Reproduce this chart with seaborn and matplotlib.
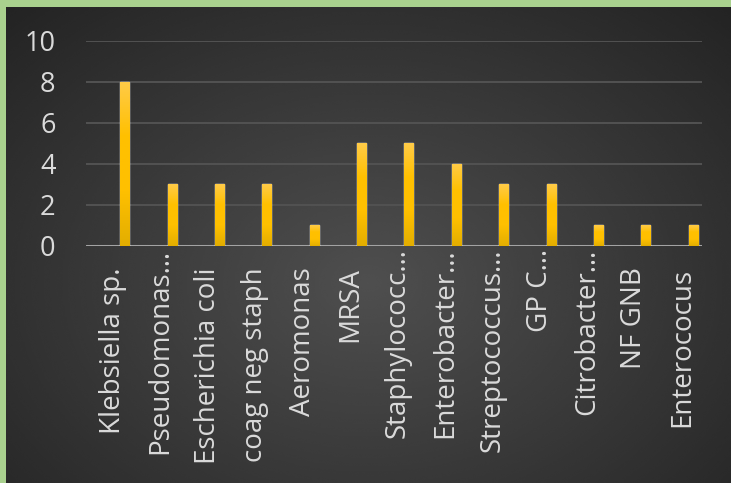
import numpy as np
import matplotlib.pyplot as plt
import seaborn as sns
from matplotlib.colors import LinearSegmentedColormap
from matplotlib.transforms import ScaledTranslation

# Organism counts (labels as shown, Excel-truncated ones end with "…")
categories = ["Klebsiella sp.", "Pseudomonas…", "Escherichia coli", "coag neg staph",
              "Aeromonas", "MRSA", "Staphylococc…", "Enterobacter…", "Streptococcus…",
              "GP C…", "Citrobacter…", "NF GNB", "Enterococus"]
counts = [8, 3, 3, 3, 1, 5, 5, 4, 3, 3, 1, 1, 1]
y_ticks = [0, 2, 4, 6, 8, 10]

sns.set_theme(style="white")
plt.rcParams['font.family'] = ['Open Sans', 'DejaVu Sans']

W, H = 731, 483
fig = plt.figure(figsize=(W / 100, H / 100), dpi=100, facecolor="#a9d18e")

# dark radial background inside the green frame
bg = fig.add_axes([6 / W, 0, 1 - 6 / W, 1 - 7 / H], zorder=-10)
yy, xx = np.mgrid[0:1:300j, 0:1:450j]
r = np.sqrt(((xx - 0.50) / 0.72) ** 2 + ((yy - 0.58) / 0.80) ** 2)
shade = 0.31 - 0.17 * np.clip(r, 0, 1)
bg.imshow(shade, cmap="gray", vmin=0, vmax=1, aspect="auto", origin="upper",
          extent=[0, 1, 0, 1], interpolation="bicubic")
bg.set_axis_off()

# plot area
ax = fig.add_axes([86 / W, 1 - 246 / H, 616 / W, (246 - 40.7) / H])
ax.set_facecolor("none")

bar_offset = 0.316
xpos = np.arange(len(categories)) + bar_offset
sns.barplot(x=xpos, y=counts, native_scale=True, width=0.19, color="#ffc000",
            saturation=1, ax=ax, zorder=3)

# golden vertical gradient on each bar
gold = LinearSegmentedColormap.from_list("gold", ["#e3ae00", "#ffc000", "#ffc000", "#ffcb47"])
grad = np.linspace(0, 1, 64).reshape(-1, 1)
for p in list(ax.patches):
    x0, y0 = p.get_x(), p.get_y()
    w, h = p.get_width(), p.get_height()
    im = ax.imshow(grad, extent=[x0, x0 + w, y0, y0 + h], origin="lower",
                   aspect="auto", cmap=gold, zorder=3.5)
    im.set_clip_path(p)

ax.set_xlim(-0.5, len(categories) - 0.5)
ax.set_ylim(0, 10)
ax.set_yticks(y_ticks)
ax.set_xticks(np.arange(len(categories)))
ax.set_xticklabels(categories, rotation=90)
ax.set_xlabel("")
ax.set_ylabel("")

ax.yaxis.grid(True, color="#525252", linewidth=1.4)
ax.xaxis.grid(False)
ax.set_axisbelow(True)
for s in ax.spines.values():
    s.set_visible(False)
ax.axhline(0, color="#a3a3a3", linewidth=2.2, zorder=2)

ax.tick_params(axis="both", length=0, labelcolor="#dadada")
ax.tick_params(axis="y", pad=22, labelsize=19.5)
ax.tick_params(axis="x", pad=15.5, labelsize=20)

# nudge labels right a little; truncated labels overflow up to the axis line
for lbl, name in zip(ax.get_xticklabels(), categories):
    dy = 0.19 if name.endswith("…") else 0.0
    lbl.set_transform(lbl.get_transform() +
                      ScaledTranslation(0.035, dy, fig.dpi_scale_trans))

fig.savefig("out.png", dpi=100, facecolor=fig.get_facecolor())
